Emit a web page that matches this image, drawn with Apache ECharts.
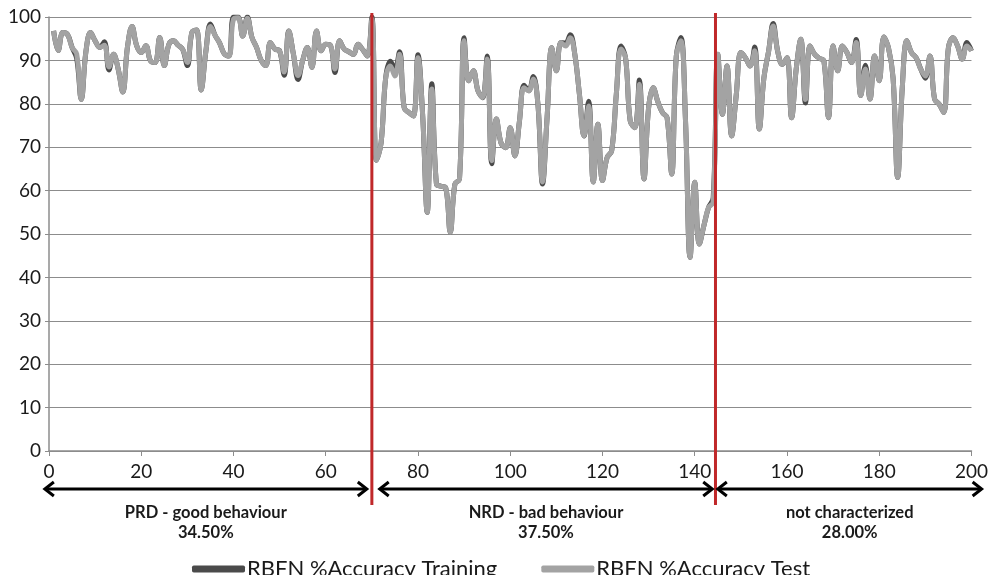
<!DOCTYPE html>
<html>
<head>
<meta charset="utf-8">
<script src="https://cdn.jsdelivr.net/npm/echarts@6/dist/echarts.min.js"></script>
<style>
  html, body { margin: 0; padding: 0; background: #fff; }
  #chart { width: 991px; height: 575px; }
</style>
</head>
<body>
<div id="chart"></div>
<script>
// 数据：测试集准确率（x = 1..200）
const testAcc = [
  96.8, 92.3, 96.4, 96, 93, 91.5, 81, 92, 96.4, 94.5,
  93, 93.5, 88.5, 91.4, 88, 82.7, 93, 97.8, 93.4, 91.8,
  93.4, 89.9, 89.5, 95.3, 88.8, 93.7, 94.5, 93.5, 92.5, 89.5,
  96.5, 97, 83.2, 92, 97.8, 95.8, 94, 91.5, 91, 99.5,
  99.8, 95.6, 99.7, 95.3, 93, 90, 88.8, 94.1, 92.6, 92.2,
  87.3, 96.8, 91.4, 86.5, 90, 93, 88.4, 96.8, 92.2, 93.7,
  93.5, 88, 94.5, 92.6, 92, 91.4, 93.7, 92.5, 91, 99.5,
  67, 71, 86, 88.7, 86.4, 91.4, 79.1, 78, 77.2, 90.6,
  77.6, 55, 83.4, 61.5, 61, 60.7, 50.4, 61.5, 62.7, 94.5,
  85.3, 87.6, 83, 81.4, 90.3, 66.9, 76.5, 71, 69.9, 74.5,
  68, 76, 83.7, 83, 85.7, 79.9, 62, 77, 92.9, 87.6,
  94.1, 93.3, 95.2, 91.4, 82.2, 72.6, 79.5, 62, 75.3, 62.3,
  67.6, 69.2, 82.2, 92.6, 90.6, 76.1, 74.5, 84.5, 62.7, 79.1,
  83.7, 80.5, 78, 76.8, 63.8, 91, 94.5, 76.1, 44.6, 61.9,
  47.7, 52, 56.1, 57.3, 91.4, 77.6, 88.7, 72.6, 82, 91.8,
  90.6, 88.7, 92.2, 74.2, 86, 92, 97.9, 92, 89.1, 90.6,
  76.8, 88, 94.9, 81, 93.3, 91.4, 90.5, 89.9, 76.8, 93.3,
  87.6, 93.3, 91.8, 89.5, 94.1, 81.9, 88, 81.1, 91, 85.3,
  95.4, 92.9, 86, 63, 83.7, 94.5, 91.8, 90.6, 88, 86.4,
  91, 81.1, 79.9, 78, 92.9, 95.2, 93.3, 90.3, 93.3, 92.2
];

// 训练集准确率，大部分与测试集重合，峰谷处略有差异
const trainAcc = [
  96.8, 92.3, 96.4, 96, 93, 90.5, 81, 92, 96.4, 94.5,
  93, 94.3, 87.8, 91.4, 88, 82.7, 93, 97.8, 93.4, 91.8,
  93.4, 89.9, 89.5, 95.3, 88.8, 93.7, 94.5, 93.5, 92.5, 88.8,
  96.5, 97, 83.2, 92, 98.4, 95.8, 94, 91.5, 91, 100,
  100, 95.6, 100, 95.3, 93, 90, 88.8, 94.1, 92.6, 92.2,
  86.6, 96.8, 91.4, 85.6, 90, 93, 88.4, 96.8, 92.2, 93.7,
  93.5, 87.2, 94.5, 92.6, 92, 91.4, 93.7, 92.5, 91, 100,
  67, 71, 86, 89.8, 88, 92, 79.1, 78, 77.2, 91.3,
  77.6, 55, 84.6, 61.5, 61, 60.7, 50.4, 61.5, 62.7, 95.2,
  85.3, 87.6, 83, 81.4, 91, 66.2, 76.5, 71, 69.9, 74.5,
  68, 76, 84.3, 83, 86.3, 79.9, 61.5, 77, 92.9, 87.6,
  94.1, 94, 95.9, 91.4, 82.2, 72.6, 80.6, 62, 75.3, 62.3,
  67.6, 69.2, 82.2, 93.3, 90.6, 76.1, 74.5, 85.5, 62.7, 79.1,
  83.7, 80.5, 78, 76.8, 63.8, 91, 95.3, 76.1, 44.6, 61.9,
  47.7, 52, 56.1, 58.3, 91.4, 77.6, 88.7, 72.6, 82, 91.8,
  90.6, 88.7, 93.1, 74.2, 86, 92, 98.5, 92, 89.1, 90.6,
  76.8, 88, 94.9, 80.2, 93.3, 91.4, 90.5, 89.9, 76.8, 93.3,
  87.6, 93.3, 91.8, 89.5, 94.8, 81.9, 88.9, 81.1, 91, 85.3,
  95.4, 92.9, 86, 63, 83.7, 94.5, 91.8, 90.6, 88, 85.9,
  91, 81.1, 79.9, 78, 92.9, 95.2, 93.3, 90.3, 94.1, 92.2
];

const seriesNames = ['RBFN %Accuracy Training', 'RBFN %Accuracy Test'];
// 分区边界（红线）与分区说明
const boundaries = [70, 144.5];
const segmentRanges = [[-0.9, 68.9], [71.7, 143.8], [145, 202.2]];
const segmentNames = ['PRD - good behaviour', 'NRD - bad behaviour', 'not characterized'];
const segmentShares = ['34.50%', '37.50%', '28.00%'];

const toPairs = (arr) => arr.map((v, i) => [i + 1, v]);

const chart = echarts.init(document.getElementById('chart'));
const FONT = 'Lato, "Open Sans", sans-serif';

chart.setOption({
  animation: false,
  backgroundColor: '#fff',
  grid: { left: 49, right: 18.5, top: 17, bottom: 124 },
  legend: {
    left: 187,
    top: 553,
    itemWidth: 53,
    itemHeight: 7,
    itemGap: 44,
    icon: 'roundRect',
    textStyle: { fontFamily: FONT, fontSize: 22, color: '#1a1a1a', padding: [0, 0, 0, -3] },
    data: seriesNames
  },
  xAxis: {
    type: 'value',
    min: 0, max: 200, interval: 20,
    axisLine: { lineStyle: { color: '#8c8c8c', width: 1.5 } },
    axisTick: { show: true, length: 5, lineStyle: { color: '#8c8c8c' } },
    axisLabel: { fontFamily: FONT, fontSize: 19, color: '#1a1a1a', margin: 11 },
    splitLine: { show: false }
  },
  yAxis: {
    type: 'value',
    min: 0, max: 100, interval: 10,
    axisLine: { show: true, lineStyle: { color: '#8c8c8c', width: 1.5 } },
    axisTick: { show: true, length: 4, lineStyle: { color: '#8c8c8c' } },
    axisLabel: { fontFamily: FONT, fontSize: 19, color: '#1a1a1a', margin: 8 },
    splitLine: { lineStyle: { color: '#8c8c8c', width: 1.2 } }
  },
  series: [
    {
      name: seriesNames[0],
      type: 'line',
      data: toPairs(trainAcc),
      smooth: 0.4,
      showSymbol: false,
      color: '#4a4a4a',
      lineStyle: { width: 5, color: '#4a4a4a' }
    },
    {
      name: seriesNames[1],
      type: 'line',
      data: toPairs(testAcc),
      smooth: 0.4,
      showSymbol: false,
      color: '#a3a3a3',
      lineStyle: { width: 5, color: '#a3a3a3' }
    }
  ]
});

// 红色分隔线、双向箭头和分区文字
const px = (v) => chart.convertToPixel({ xAxisIndex: 0 }, v);
const arrowY = 489;
const graphics = [];

boundaries.forEach((b) => {
  const x = px(b);
  graphics.push({
    type: 'line', z: 100,
    shape: { x1: x, y1: 13, x2: x, y2: 505 },
    style: { stroke: '#c0282a', lineWidth: 3 }
  });
});

segmentRanges.forEach((r, i) => {
  const x1 = px(r[0]);
  const x2 = px(r[1]);
  const head = 9;
  graphics.push({
    type: 'line', z: 100,
    shape: { x1: x1 + 1, y1: arrowY, x2: x2 - 1, y2: arrowY },
    style: { stroke: '#000', lineWidth: 3 }
  });
  graphics.push({
    type: 'polyline', z: 100,
    shape: { points: [[x1 + head, arrowY - 7], [x1, arrowY], [x1 + head, arrowY + 7]] },
    style: { stroke: '#000', lineWidth: 3, fill: null }
  });
  graphics.push({
    type: 'polyline', z: 100,
    shape: { points: [[x2 - head, arrowY - 7], [x2, arrowY], [x2 - head, arrowY + 7]] },
    style: { stroke: '#000', lineWidth: 3, fill: null }
  });
  const cx = (x1 + x2) / 2;
  graphics.push({
    type: 'text', z: 100,
    style: {
      x: cx, y: 513, text: segmentNames[i],
      align: 'center', verticalAlign: 'middle',
      font: 'bold 16.5px ' + FONT, fill: '#1a1a1a'
    }
  });
  graphics.push({
    type: 'text', z: 100,
    style: {
      x: cx, y: 533, text: segmentShares[i],
      align: 'center', verticalAlign: 'middle',
      font: 'bold 16.5px ' + FONT, fill: '#1a1a1a'
    }
  });
});

chart.setOption({ graphic: graphics });
</script>
</body>
</html>
